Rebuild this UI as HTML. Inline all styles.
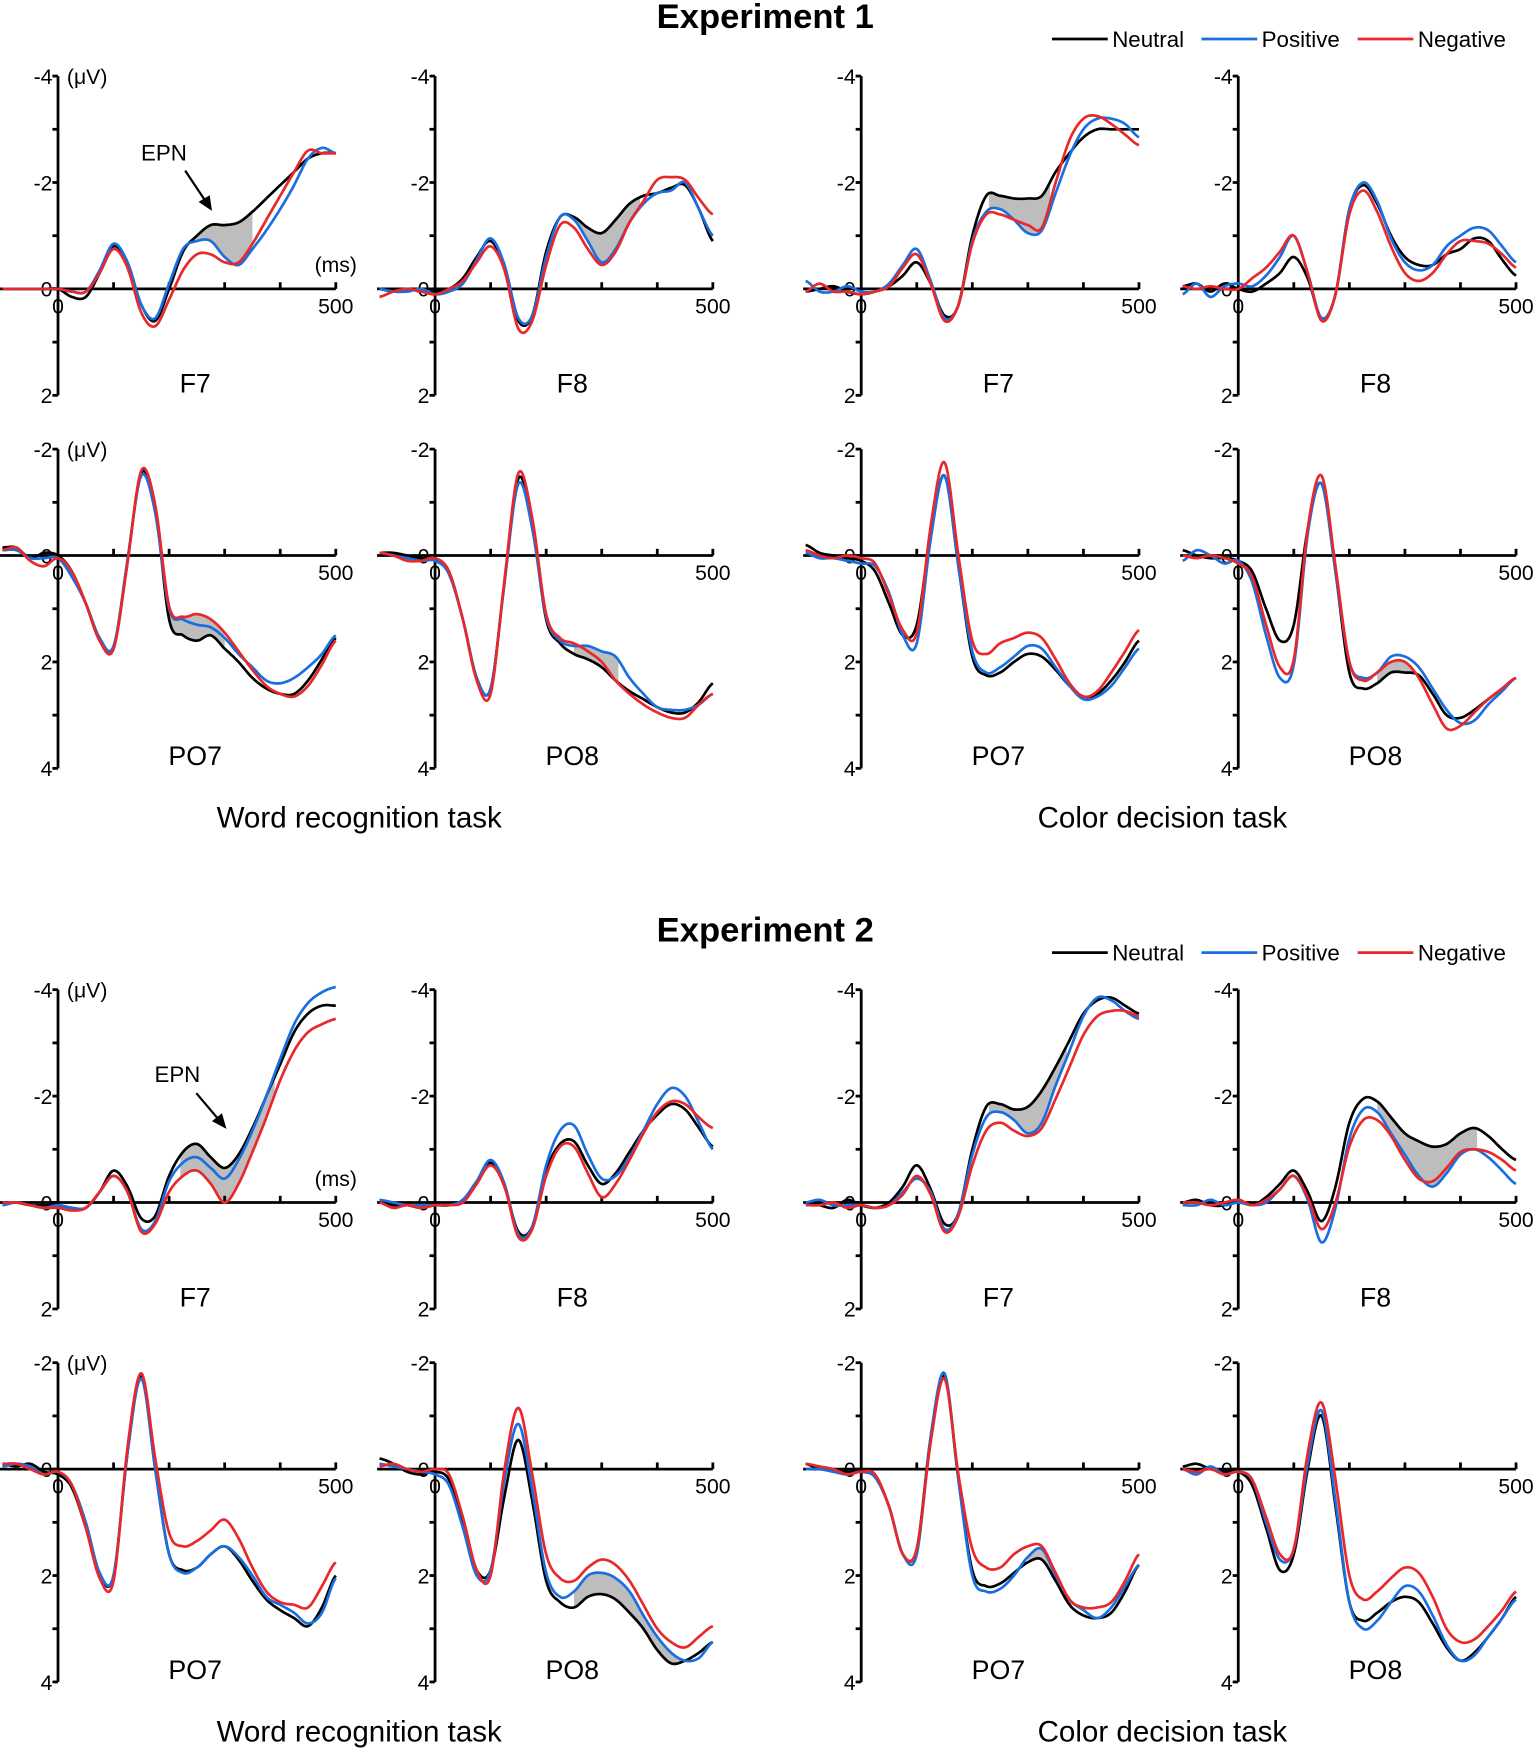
<!DOCTYPE html>
<html><head><meta charset="utf-8"><style>
html,body{margin:0;padding:0;background:#fff}
svg{display:block}
text{font-family:"Liberation Sans",sans-serif;fill:#000}
</style></head><body>
<svg id="fig" width="1535" height="1748" viewBox="0 0 1376 1567" preserveAspectRatio="none" xmlns="http://www.w3.org/2000/svg">
<g id="static">
<text x="686" y="25" text-anchor="middle" font-size="31" font-weight="bold">Experiment 1</text>
<text x="686" y="844" text-anchor="middle" font-size="31" font-weight="bold">Experiment 2</text>
<g>
<line x1="943" y1="35" x2="993" y2="35" stroke="#000" stroke-width="2.5"/><text x="997" y="42" font-size="20">Neutral</text>
<line x1="1077" y1="35" x2="1127" y2="35" stroke="#1a6fe0" stroke-width="2.5"/><text x="1131" y="42" font-size="20">Positive</text>
<line x1="1217" y1="35" x2="1267" y2="35" stroke="#e8282b" stroke-width="2.5"/><text x="1271" y="42" font-size="20">Negative</text>
</g>
<g>
<line x1="943" y1="854" x2="993" y2="854" stroke="#000" stroke-width="2.5"/><text x="997" y="861" font-size="20">Neutral</text>
<line x1="1077" y1="854" x2="1127" y2="854" stroke="#1a6fe0" stroke-width="2.5"/><text x="1131" y="861" font-size="20">Positive</text>
<line x1="1217" y1="854" x2="1267" y2="854" stroke="#e8282b" stroke-width="2.5"/><text x="1271" y="861" font-size="20">Negative</text>
</g>
<text x="322" y="742" text-anchor="middle" font-size="26.5">Word recognition task</text>
<text x="1042" y="742" text-anchor="middle" font-size="26.5">Color decision task</text>
<text x="322" y="1561" text-anchor="middle" font-size="26.5">Word recognition task</text>
<text x="1042" y="1561" text-anchor="middle" font-size="26.5">Color decision task</text>
<g>
<text x="147" y="144" text-anchor="middle" font-size="20">EPN</text>
<line x1="166" y1="153" x2="186" y2="183" stroke="#000" stroke-width="2"/>
<polygon points="190,189 178,181 188,175" fill="#000"/>
</g>
<g>
<text x="159" y="970" text-anchor="middle" font-size="20">EPN</text>
<line x1="176" y1="980" x2="198" y2="1006" stroke="#000" stroke-width="2"/>
<polygon points="203,1012 190,1005 199,998" fill="#000"/>
</g>
</g>
<g id="panels"></g>
</svg>
<script>
const times = [-100,-75,-50,-25,0,25,50,75,100,125,150,175,200,225,250,275,300,325,350,375,400,425,450,475,500];
const panelLabels = ["F7","F8","F7","F8","PO7","PO8","PO7","PO8","F7","F8","F7","F8","PO7","PO8","PO7","PO8"];
const neutral = [
[0,0,0,0,0,0.15,0.15,-0.3,-0.8,-0.5,0.3,0.6,0.0,-0.7,-1.0,-1.2,-1.2,-1.25,-1.45,-1.7,-1.95,-2.2,-2.45,-2.55,-2.55],
[0,0.05,0,0.05,0.05,0,-0.2,-0.6,-0.9,-0.4,0.6,0.5,-0.7,-1.35,-1.35,-1.15,-1.05,-1.3,-1.6,-1.75,-1.8,-1.9,-1.95,-1.5,-0.9],
[0.05,0,-0.05,0.05,0.1,0.05,-0.05,-0.25,-0.5,-0.1,0.5,0.3,-1.0,-1.75,-1.75,-1.7,-1.7,-1.75,-2.2,-2.55,-2.85,-3.0,-3.0,-3.0,-3.0],
[-0.05,-0.1,0.05,-0.1,0,0.05,-0.1,-0.3,-0.6,-0.2,0.55,0.1,-1.5,-1.95,-1.6,-1.0,-0.6,-0.45,-0.45,-0.65,-0.75,-0.95,-0.9,-0.55,-0.25],
[-0.15,-0.15,0.05,-0.05,0,0.3,0.9,1.6,1.75,0.1,-1.55,-0.9,1.2,1.5,1.6,1.5,1.75,2.0,2.3,2.5,2.6,2.6,2.35,1.95,1.55],
[-0.05,-0.05,0,0.05,0.05,0.3,1.2,2.3,2.5,0.5,-1.45,-0.6,1.2,1.65,1.85,1.95,2.1,2.35,2.55,2.7,2.85,2.95,2.95,2.75,2.4],
[-0.2,-0.05,0,0.05,0.1,0.3,0.9,1.5,1.3,-0.4,-1.5,0.2,1.9,2.25,2.2,2.0,1.85,1.9,2.15,2.45,2.65,2.6,2.35,2.0,1.6],
[-0.1,0,0.05,0.05,0.1,0.3,1.0,1.6,1.3,-0.5,-1.35,0.3,2.2,2.5,2.4,2.2,2.2,2.25,2.6,3.0,3.05,2.9,2.7,2.5,2.3],
[0,0,0.05,0.05,0.05,0.1,0.1,-0.2,-0.6,-0.3,0.3,0.25,-0.5,-0.95,-1.1,-0.85,-0.65,-0.9,-1.4,-2.0,-2.6,-3.2,-3.55,-3.7,-3.7],
[0,0.05,0.05,0.1,0.05,0.05,-0.05,-0.4,-0.75,-0.3,0.55,0.45,-0.6,-1.1,-1.15,-0.7,-0.35,-0.55,-0.95,-1.35,-1.65,-1.85,-1.75,-1.4,-1.05],
[0,0.05,0.1,-0.05,0.05,0.1,0,-0.3,-0.7,-0.25,0.4,0.2,-1.0,-1.8,-1.85,-1.75,-1.8,-2.1,-2.55,-3.05,-3.55,-3.8,-3.85,-3.7,-3.55],
[0,-0.05,0.05,0.05,-0.05,0.05,-0.1,-0.35,-0.6,-0.2,0.35,-0.3,-1.5,-1.95,-1.9,-1.6,-1.3,-1.15,-1.05,-1.1,-1.3,-1.4,-1.25,-1.0,-0.8],
[-0.1,-0.05,-0.1,0.05,0.1,0.35,1.1,2.0,2.0,-0.3,-1.75,0.0,1.6,1.9,1.85,1.6,1.45,1.7,2.1,2.45,2.65,2.8,2.95,2.6,2.0],
[-0.2,-0.1,0.05,0.1,0.05,0.2,1.0,1.9,1.9,0.5,-0.55,0.6,2.1,2.5,2.6,2.4,2.35,2.45,2.7,3.0,3.4,3.65,3.6,3.45,3.25],
[-0.1,0,0,0.05,0.05,0.15,0.7,1.6,1.5,-0.6,-1.75,0.2,1.9,2.2,2.15,1.95,1.75,1.7,2.1,2.55,2.75,2.8,2.7,2.3,1.8],
[-0.05,-0.1,0,0.05,0.05,0.3,1.1,1.9,1.6,0.0,-1.0,0.7,2.5,2.85,2.7,2.5,2.4,2.5,2.9,3.35,3.6,3.45,3.15,2.8,2.4]];
const positive = [
[0,0,0,0,0,0.05,0.05,-0.35,-0.85,-0.5,0.3,0.55,-0.1,-0.75,-0.9,-0.9,-0.6,-0.45,-0.75,-1.1,-1.5,-1.95,-2.45,-2.65,-2.55],
[0,0.05,0.05,0,0.1,0.05,-0.1,-0.55,-0.95,-0.45,0.55,0.5,-0.6,-1.35,-1.3,-0.9,-0.5,-0.75,-1.25,-1.6,-1.8,-1.85,-2.0,-1.5,-1.0],
[-0.15,0.05,0.05,-0.05,0.05,0.05,-0.1,-0.45,-0.75,-0.15,0.55,0.3,-0.9,-1.45,-1.5,-1.3,-1.05,-1.1,-1.8,-2.5,-3.0,-3.2,-3.2,-3.1,-2.85],
[0.1,-0.1,0.15,-0.05,-0.1,-0.05,-0.25,-0.6,-1.0,-0.3,0.55,0.1,-1.5,-2.0,-1.65,-0.95,-0.5,-0.35,-0.45,-0.8,-1.0,-1.15,-1.1,-0.8,-0.5],
[-0.1,-0.1,0.05,0.05,0.05,0.4,0.9,1.55,1.7,0.1,-1.5,-0.8,1.0,1.2,1.3,1.35,1.55,1.85,2.1,2.35,2.4,2.3,2.1,1.85,1.5],
[-0.05,0,0.05,0.1,0.1,0.35,1.2,2.3,2.5,0.5,-1.35,-0.5,1.15,1.6,1.7,1.7,1.8,1.9,2.3,2.6,2.85,2.9,2.9,2.8,2.6],
[-0.05,0.05,0.05,0.1,0.15,0.2,0.7,1.5,1.65,-0.3,-1.5,0.2,1.8,2.2,2.1,1.9,1.7,1.75,2.1,2.45,2.7,2.65,2.45,2.1,1.75],
[0.1,-0.1,0,0.15,0.1,0.5,1.5,2.3,2.05,-0.4,-1.35,0.3,2.0,2.3,2.2,1.9,1.9,2.1,2.5,2.9,3.15,3.1,2.8,2.55,2.3],
[0.05,0,0.05,0.1,0.05,0.1,0.1,-0.2,-0.5,-0.2,0.5,0.35,-0.4,-0.75,-0.85,-0.65,-0.45,-0.8,-1.35,-2.0,-2.7,-3.35,-3.75,-3.95,-4.05],
[-0.05,0,0.05,0.05,0.05,0.05,-0.05,-0.4,-0.8,-0.35,0.6,0.45,-0.7,-1.35,-1.45,-0.9,-0.45,-0.5,-0.85,-1.35,-1.85,-2.15,-2.0,-1.5,-1.0],
[0,-0.05,0.05,0.05,0.05,0.1,0.05,-0.2,-0.45,-0.2,0.5,0.2,-0.9,-1.6,-1.7,-1.55,-1.3,-1.5,-2.2,-2.85,-3.5,-3.85,-3.8,-3.6,-3.45],
[0.05,0.05,-0.05,0.05,0,0.05,0,-0.25,-0.5,-0.05,0.75,0.1,-1.2,-1.75,-1.7,-1.3,-0.9,-0.5,-0.3,-0.55,-0.9,-1.0,-0.85,-0.6,-0.35],
[-0.05,-0.1,-0.05,0.1,0.05,0.3,1.0,1.95,2.0,-0.3,-1.7,0.0,1.6,1.95,1.85,1.6,1.45,1.65,2.0,2.4,2.55,2.7,2.9,2.7,2.05],
[-0.1,-0.05,0,0.05,0.1,0.3,1.1,2.0,1.9,0.2,-0.85,0.4,1.95,2.4,2.3,2.0,1.95,2.05,2.3,2.75,3.15,3.45,3.6,3.55,3.25],
[0,0,0.05,0.1,0.05,0.15,0.7,1.6,1.6,-0.6,-1.8,0.2,2.0,2.3,2.25,2.0,1.65,1.5,2.0,2.45,2.65,2.8,2.6,2.2,1.8],
[0,0.1,-0.05,0.1,0.05,0.2,1.0,1.7,1.5,-0.1,-1.1,0.6,2.5,3.0,2.85,2.5,2.2,2.3,2.75,3.3,3.6,3.5,3.15,2.8,2.45]];
const negative = [
[0,0,0,0,0,0.05,0.05,-0.3,-0.75,-0.4,0.45,0.7,0.2,-0.35,-0.65,-0.65,-0.5,-0.5,-0.85,-1.3,-1.75,-2.2,-2.6,-2.55,-2.55],
[0.15,0.05,0,0.05,0.1,0,-0.15,-0.5,-0.8,-0.35,0.75,0.6,-0.45,-1.2,-1.15,-0.75,-0.45,-0.7,-1.25,-1.65,-2.05,-2.1,-2.05,-1.7,-1.4],
[0.05,-0.1,0.05,0.05,0.1,0.05,-0.05,-0.4,-0.65,-0.1,0.6,0.3,-0.85,-1.4,-1.4,-1.3,-1.2,-1.15,-2.0,-2.8,-3.2,-3.25,-3.1,-2.9,-2.7],
[-0.05,0,-0.05,0,0,-0.2,-0.4,-0.7,-1.0,-0.3,0.6,0.1,-1.4,-1.85,-1.45,-0.8,-0.3,-0.15,-0.3,-0.65,-0.9,-0.9,-0.85,-0.65,-0.4],
[-0.1,-0.15,0.1,0.2,0.05,0.3,0.9,1.6,1.75,0.15,-1.6,-0.95,0.95,1.15,1.1,1.2,1.45,1.8,2.15,2.45,2.6,2.65,2.45,2.05,1.6],
[-0.05,0,0.1,0.1,0.05,0.3,1.2,2.35,2.6,0.45,-1.55,-0.7,1.1,1.55,1.65,1.8,2.0,2.35,2.6,2.8,2.95,3.05,3.05,2.8,2.6],
[-0.1,0,0.05,0.0,0.05,0.15,0.75,1.4,1.45,-0.55,-1.75,0.0,1.6,1.85,1.65,1.55,1.45,1.55,1.95,2.4,2.65,2.55,2.2,1.8,1.4],
[0,0.05,0,0.05,0.15,0.4,1.3,2.1,1.95,-0.5,-1.5,0.2,2.0,2.35,2.2,2.0,2.0,2.3,2.8,3.25,3.2,2.95,2.7,2.5,2.3],
[0,0,0.05,0.1,0.1,0.15,0.1,-0.2,-0.5,-0.2,0.55,0.4,-0.2,-0.5,-0.6,-0.35,0.0,-0.35,-0.95,-1.6,-2.3,-2.85,-3.2,-3.35,-3.45],
[0,0.1,0.05,0.1,0.05,0.05,0,-0.35,-0.7,-0.3,0.65,0.5,-0.5,-1.05,-1.05,-0.55,-0.1,-0.35,-0.8,-1.3,-1.7,-1.9,-1.85,-1.6,-1.4],
[0.05,0.05,0,0.1,0.05,0.1,0.05,-0.15,-0.5,-0.15,0.55,0.25,-0.7,-1.35,-1.5,-1.35,-1.25,-1.4,-1.95,-2.55,-3.15,-3.5,-3.6,-3.6,-3.5],
[0,0,0.05,0,-0.05,0.05,-0.05,-0.25,-0.5,-0.1,0.5,0,-1.05,-1.55,-1.55,-1.25,-0.8,-0.45,-0.4,-0.65,-0.95,-1.0,-0.95,-0.8,-0.6],
[-0.1,-0.1,0,0.1,0.05,0.3,1.1,2.05,2.1,-0.4,-1.8,-0.2,1.2,1.45,1.35,1.15,0.95,1.3,1.85,2.3,2.5,2.55,2.6,2.2,1.75],
[-0.05,-0.1,0,0.05,0,0.1,0.9,1.9,2.0,0.0,-1.15,0.1,1.6,2.05,2.1,1.85,1.7,1.8,2.1,2.55,3.0,3.25,3.35,3.15,2.95],
[-0.1,-0.05,0,0.1,0.05,0.1,0.7,1.6,1.5,-0.5,-1.7,0.1,1.5,1.85,1.85,1.6,1.45,1.45,1.95,2.45,2.6,2.6,2.5,2.1,1.6],
[0,0.05,0,0.1,0.05,0.2,0.9,1.6,1.5,-0.3,-1.25,0.2,2.0,2.45,2.3,2.05,1.85,1.95,2.4,3.0,3.25,3.2,2.95,2.65,2.3]];
// shaded significant window per panel: [startMs, endMs, comparison series]
const fillStart = [240,235,230,null,200,250,null,250,220,null,230,250,null,250,300,null];
const fillEnd   = [350,370,340,null,300,330,null,320,390,null,370,430,null,450,380,null];
const fillWith  = ["P","P","P",null,"N","P",null,"N","N",null,"P","P",null,"P","P",null];
const yTicksF = [-4,-3,-2,-1,0,1,2];
const yTicksPO = [-2,-1,0,1,2,3,4];
const yLabelsF = ["-4","-2","2"];
const yLabelsPO = ["-2","2","4"];
const xTicks = [100,200,300,400,500];

const colX = [52,390,772,1110];
const rowY0 = [259,498,1078,1317];
const PXUV = 47.7, PXMS = 249/500;
const NS = "http://www.w3.org/2000/svg";
const root = document.getElementById('panels');
function mk(tag, attrs, parent){const e=document.createElementNS(NS,tag);for(const k in attrs)e.setAttribute(k,attrs[k]);(parent||root).appendChild(e);return e;}
function cr(vals, t){
  const step=25, i=Math.min(Math.floor((t-times[0])/step), vals.length-2);
  const u=(t-times[0])/step - i;
  const p0=vals[Math.max(i-1,0)], p1=vals[i], p2=vals[i+1], p3=vals[Math.min(i+2,vals.length-1)];
  return 0.5*((2*p1)+(-p0+p2)*u+(2*p0-5*p1+4*p2-p3)*u*u+(-p0+3*p1-3*p2+p3)*u*u*u);
}
for(let p=0;p<16;p++){
  const c=p%4, r=Math.floor(p/4), x0=colX[c], y0=rowY0[r];
  const isF = (r===0||r===2);
  const sx = t=>x0+t*PXMS, sy = v=>y0+v*PXUV;
  const g = mk('g',{});
  
  
  if(fillStart[p]!==null){
    const other = fillWith[p]==="P"?positive[p]:negative[p];
    let top=[],bot=[];
    for(let t=fillStart[p];t<=fillEnd[p];t+=2){top.push(sx(t).toFixed(1)+','+sy(cr(neutral[p],t)).toFixed(1));bot.unshift(sx(t).toFixed(1)+','+sy(cr(other,t)).toFixed(1));}
    const f=mk('polygon',{points:top.concat(bot).join(' '),fill:'#bdbdbd',stroke:'none'},g);
    
    
  }
  const ticks = isF?yTicksF:yTicksPO;
  const ya=mk('line',{x1:x0,y1:sy(ticks[0]),x2:x0,y2:sy(ticks[ticks.length-1]),stroke:'#000','stroke-width':2.5},g);
  
  
  ticks.forEach(v=>{mk('line',{x1:x0-5,y1:sy(v),x2:x0,y2:sy(v),stroke:'#000','stroke-width':2.5},g);});
  (isF?yLabelsF:yLabelsPO).forEach(s=>{
    const tl=mk('text',{x:x0-5,y:sy(+s)+7,'text-anchor':'end','font-size':19},g);tl.textContent=s;
    
    
  });
  const z=mk('text',{x:x0-5,y:y0+7,'text-anchor':'end','font-size':19},g);z.textContent='0';
  const xa=mk('line',{x1:x0-52,y1:y0,x2:sx(500),y2:y0,stroke:'#000','stroke-width':2.5},g);
  
  
  xTicks.forEach(t=>{mk('line',{x1:sx(t),y1:y0,x2:sx(t),y2:y0-6,stroke:'#000','stroke-width':2.5},g);});
  const x0l=mk('text',{x:x0,y:y0+22,'text-anchor':'middle','font-size':19},g);x0l.textContent='0';
  const x5=mk('text',{x:sx(500),y:y0+22,'text-anchor':'middle','font-size':19},g);x5.textContent='500';
  if(c===0){const u=mk('text',{x:x0+8,y:sy(ticks[0])+7,'font-size':19},g);u.textContent='(\u03BCV)';
    
    }
  if(c===0&&isF){const m=mk('text',{x:sx(500),y:y0-15,'text-anchor':'middle','font-size':19},g);m.textContent='(ms)';
    
    }
  const lab=mk('text',{x:x0+123,y:isF?y0+93:y0+188,'text-anchor':'middle','font-size':24},g);lab.textContent=panelLabels[p];
  
  
  [[neutral[p],'#000','neutral'],[positive[p],'#1a6fe0','positive'],[negative[p],'#e8282b','negative']].forEach(([vals,col,nm])=>{
    let pts=[];for(let t=-100;t<=500;t+=2)pts.push(sx(t).toFixed(1)+','+sy(cr(vals,t)).toFixed(1));
    const l=mk('polyline',{points:pts.join(' '),fill:'none',stroke:col,'stroke-width':2.4,'stroke-linejoin':'round'},g);
    
    
  });
}
</script>
</body></html>
